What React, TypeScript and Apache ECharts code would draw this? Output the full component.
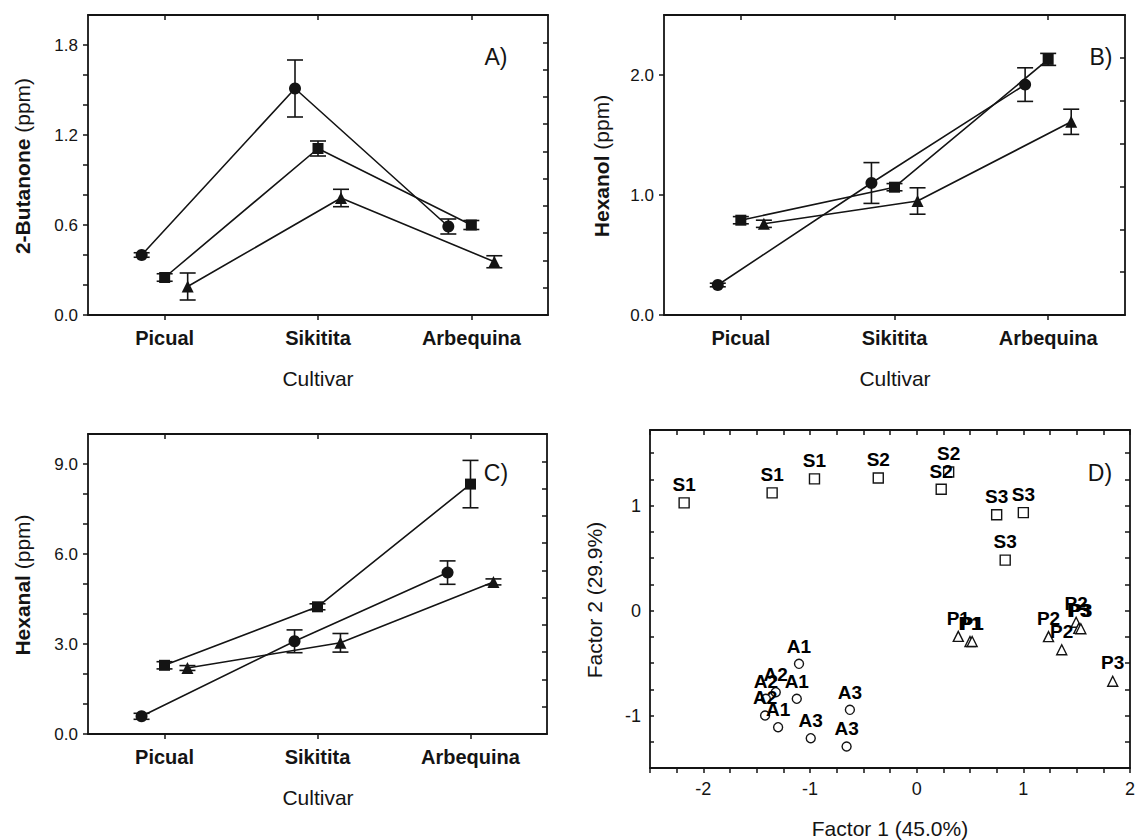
import React, { useEffect, useRef } from "react";
import * as echarts from "echarts";

// ---------- data ----------
const cultivars = ["Picual", "Sikitita", "Arbequina"];

// Panel A: 2-Butanone (ppm)
const butanoneCircle = [0.4, 1.51, 0.59];
const butanoneCircleErr = [0.015, 0.19, 0.05];
const butanoneSquare = [0.25, 1.11, 0.6];
const butanoneSquareErr = [0.025, 0.05, 0.03];
const butanoneTriangle = [0.19, 0.78, 0.355];
const butanoneTriangleErr = [0.09, 0.058, 0.04];

// Panel B: Hexanol (ppm)
const hexanolCircle = [0.25, 1.1, 1.92];
const hexanolCircleErr = [0.015, 0.17, 0.14];
const hexanolSquare = [0.79, 1.065, 2.13];
const hexanolSquareErr = [0.03, 0.03, 0.05];
const hexanolTriangle = [0.76, 0.95, 1.61];
const hexanolTriangleErr = [0.03, 0.11, 0.105];

// Panel C: Hexanal (ppm)
const hexanalCircle = [0.59, 3.09, 5.38];
const hexanalCircleErr = [0.1, 0.38, 0.39];
const hexanalSquare = [2.29, 4.24, 8.33];
const hexanalSquareErr = [0.12, 0.1, 0.79];
const hexanalTriangle = [2.2, 3.04, 5.07];
const hexanalTriangleErr = [0.08, 0.31, 0.1];

// Panel D: factor scores
const sLabels = ["S1", "S1", "S1", "S2", "S2", "S2", "S3", "S3", "S3"];
const sF1 = [-2.18, -1.355, -0.958, -0.36, 0.23, 0.3, 0.75, 1.0, 0.83];
const sF2 = [1.026, 1.121, 1.254, 1.263, 1.155, 1.32, 0.912, 0.933, 0.48];
const pLabels = ["P1", "P1", "P1", "P2", "P2", "P2", "P3", "P3", "P3"];
const pF1 = [0.39, 0.5, 0.52, 1.236, 1.36, 1.495, 1.52, 1.539, 1.838];
const pF2 = [-0.246, -0.295, -0.295, -0.248, -0.374, -0.111, -0.17, -0.174, -0.673];
const aLabels = ["A1", "A1", "A1", "A2", "A2", "A2", "A3", "A3", "A3"];
const aF1 = [-1.103, -1.124, -1.299, -1.321, -1.414, -1.421, -0.626, -0.993, -0.657];
const aF2 = [-0.508, -0.841, -1.111, -0.778, -0.841, -1.0, -0.946, -1.216, -1.295];

// tick lists
const catTicks = [0, 1, 2];
const aYLabels = [0, 0.6, 1.2, 1.8];
const aYTicks = [0, 0.2, 0.4, 0.6, 0.8, 1.0, 1.2, 1.4, 1.6, 1.8];
const bYLabels = [0, 1, 2];
const bYTicks = [0, 1, 2];
const cYLabels = [0, 3, 6, 9];
const cYTicks = [0, 1, 2, 3, 4, 5, 6, 7, 8, 9];
const dXLabels = [-2, -1, 0, 1, 2];
const dYLabels = [-1, 0, 1];

const FONT = "'Liberation Sans', Arial, Helvetica, sans-serif";
const INK = "#141414";

function steps(from: number, to: number, n: number) {
  const out: number[] = [];
  for (let k = 1; k < n; k++) out.push(from + ((to - from) * k) / n);
  return out;
}
function range(from: number, to: number, step: number) {
  const out: number[] = [];
  for (let v = from; v <= to + 1e-9; v += step) out.push(Math.round(v * 1000) / 1000);
  return out;
}

const offsets = [-0.15, 0, 0.15];

export default function App() {
  const ref = useRef<HTMLDivElement>(null);

  useEffect(() => {
    document.body.style.margin = "0";
    if (!ref.current) return;
    const chart = echarts.init(ref.current, undefined, { renderer: "svg" });

    const frameLine = { show: true, onZero: false, lineStyle: { color: INK, width: 1.8 } };

    const grids = [
      { left: 88, top: 15, width: 460, height: 300 },
      { left: 664, top: 15, width: 461, height: 300 },
      { left: 88, top: 434, width: 459, height: 300 },
      { left: 650, top: 430, width: 480, height: 338 },
    ];

    const xAxes: any[] = [];
    const yAxes: any[] = [];

    const linePanels = [
      {
        ymax: 2.0,
        yLabels: aYLabels,
        yTicks: aYTicks,
        rTicks: steps(0, 2.0, 11),
        groups: [
          { m: butanoneCircle, e: butanoneCircleErr, sym: "circle", size: 12 },
          { m: butanoneSquare, e: butanoneSquareErr, sym: "rect", size: 11 },
          { m: butanoneTriangle, e: butanoneTriangleErr, sym: "triangle", size: 12 },
        ],
      },
      {
        ymax: 2.5,
        yLabels: bYLabels,
        yTicks: bYTicks,
        rTicks: steps(0, 2.5, 7),
        groups: [
          { m: hexanolCircle, e: hexanolCircleErr, sym: "circle", size: 12 },
          { m: hexanolSquare, e: hexanolSquareErr, sym: "rect", size: 11 },
          { m: hexanolTriangle, e: hexanolTriangleErr, sym: "triangle", size: 12 },
        ],
      },
      {
        ymax: 10,
        yLabels: cYLabels,
        yTicks: cYTicks,
        rTicks: steps(0, 10, 11),
        groups: [
          { m: hexanalCircle, e: hexanalCircleErr, sym: "circle", size: 12 },
          { m: hexanalSquare, e: hexanalSquareErr, sym: "rect", size: 11 },
          { m: hexanalTriangle, e: hexanalTriangleErr, sym: "triangle", size: 12 },
        ],
      },
    ];

    const series: any[] = [];

    linePanels.forEach((p, i) => {
      xAxes.push({
        gridIndex: i,
        type: "value",
        position: "bottom",
        min: -0.5,
        max: 2.5,
        axisLine: frameLine,
        splitLine: { show: false },
        axisTick: { show: true, customValues: catTicks, length: 5, inside: false, lineStyle: { color: INK, width: 1.5 } },
        axisLabel: {
          customValues: catTicks,
          formatter: (v: number) => cultivars[Math.round(v)] ?? "",
          fontWeight: "bold",
          fontSize: 20,
          color: INK,
          margin: 13,
          fontFamily: FONT,
        },
      });
      xAxes.push({
        gridIndex: i,
        type: "value",
        position: "top",
        min: -0.5,
        max: 2.5,
        axisLine: frameLine,
        splitLine: { show: false },
        axisTick: { show: true, customValues: catTicks, length: 5, inside: true, lineStyle: { color: INK, width: 1.5 } },
        axisLabel: { show: false },
      });
      yAxes.push({
        gridIndex: i,
        type: "value",
        position: "left",
        min: 0,
        max: p.ymax,
        axisLine: frameLine,
        splitLine: { show: false },
        axisTick: { show: true, customValues: p.yTicks, length: 5, inside: false, lineStyle: { color: INK, width: 1.5 } },
        axisLabel: {
          customValues: p.yLabels,
          formatter: (v: number) => v.toFixed(1),
          fontSize: 17,
          color: INK,
          margin: 10,
          fontFamily: FONT,
        },
      });
      yAxes.push({
        gridIndex: i,
        type: "value",
        position: "right",
        min: 0,
        max: p.ymax,
        axisLine: frameLine,
        splitLine: { show: false },
        axisTick: { show: true, customValues: p.rTicks, length: 5, inside: true, lineStyle: { color: INK, width: 1.5 } },
        axisLabel: { show: false },
      });

      p.groups.forEach((g, gi) => {
        const xs = catTicks.map((c) => c + offsets[gi]);
        series.push({
          type: "custom",
          xAxisIndex: 2 * i,
          yAxisIndex: 2 * i,
          z: 2,
          silent: true,
          encode: { x: 0, y: [1, 2] },
          data: xs.map((x, j) => [x, g.m[j] - g.e[j], g.m[j] + g.e[j]]),
          renderItem: (params: any, api: any) => {
            const x = api.value(0);
            const lo = api.coord([x, api.value(1)]);
            const hi = api.coord([x, api.value(2)]);
            const w = 8;
            const st = { stroke: INK, lineWidth: 1.6, fill: "none" };
            return {
              type: "group",
              children: [
                { type: "line", shape: { x1: lo[0], y1: lo[1], x2: hi[0], y2: hi[1] }, style: st },
                { type: "line", shape: { x1: lo[0] - w, y1: lo[1], x2: lo[0] + w, y2: lo[1] }, style: st },
                { type: "line", shape: { x1: hi[0] - w, y1: hi[1], x2: hi[0] + w, y2: hi[1] }, style: st },
              ],
            };
          },
        });
        series.push({
          type: "line",
          xAxisIndex: 2 * i,
          yAxisIndex: 2 * i,
          z: 3,
          data: xs.map((x, j) => [x, g.m[j]]),
          symbol: g.sym,
          symbolSize: g.size,
          showAllSymbol: true,
          itemStyle: { color: INK, opacity: 1 },
          lineStyle: { color: INK, width: 1.6 },
        });
      });
    });

    // Panel D axes
    const dXT = range(-2.5, 2, 0.25);
    const dYT = range(-1.5, 1.5, 0.25);
    const tickStyle = { color: INK, width: 1.5 };
    xAxes.push({
      gridIndex: 3,
      type: "value",
      position: "bottom",
      min: -2.5,
      max: 2,
      axisLine: frameLine,
      splitLine: { show: false },
      axisTick: { show: true, customValues: dXT, length: 5, inside: false, lineStyle: tickStyle },
      axisLabel: { customValues: dXLabels, formatter: (v: number) => String(v), fontSize: 18, color: INK, margin: 12, fontFamily: FONT },
    });
    xAxes.push({
      gridIndex: 3,
      type: "value",
      position: "top",
      min: -2.5,
      max: 2,
      axisLine: frameLine,
      splitLine: { show: false },
      axisTick: { show: true, customValues: dXT, length: 5, inside: true, lineStyle: tickStyle },
      axisLabel: { show: false },
    });
    yAxes.push({
      gridIndex: 3,
      type: "value",
      position: "left",
      min: -1.5,
      max: 1.72,
      axisLine: frameLine,
      splitLine: { show: false },
      axisTick: { show: true, customValues: dYT, length: 4, inside: true, lineStyle: tickStyle },
      axisLabel: { customValues: dYLabels, formatter: (v: number) => String(v), fontSize: 18, color: INK, margin: 9, fontFamily: FONT },
    });
    yAxes.push({
      gridIndex: 3,
      type: "value",
      position: "right",
      min: -1.5,
      max: 1.72,
      axisLine: frameLine,
      splitLine: { show: false },
      axisTick: { show: true, customValues: dYT, length: 5, inside: true, lineStyle: tickStyle },
      axisLabel: { show: false },
    });

    const scatterGroups = [
      { f1: sF1, f2: sF2, lab: sLabels, sym: "rect", size: 10 },
      { f1: pF1, f2: pF2, lab: pLabels, sym: "triangle", size: 10 },
      { f1: aF1, f2: aF2, lab: aLabels, sym: "circle", size: 9 },
    ];
    scatterGroups.forEach((g) => {
      series.push({
        type: "scatter",
        xAxisIndex: 6,
        yAxisIndex: 6,
        z: 3,
        symbol: g.sym,
        symbolSize: g.size,
        itemStyle: { color: "#ffffff", borderColor: INK, borderWidth: 1.4, opacity: 1 },
        label: {
          show: true,
          position: "top",
          distance: 3,
          formatter: "{b}",
          fontWeight: "bold",
          fontSize: 19,
          color: "#000000",
          opacity: 1,
          fontFamily: FONT,
        },
        emphasis: { disabled: true },
        data: g.f1.map((x, j) => ({ name: g.lab[j], value: [x, g.f2[j]] })),
      });
    });

    const text = (x: number, y: number, t: string, rot = 0, size = 21, rich?: any) => ({
      type: "text",
      x,
      y,
      rotation: rot,
      silent: true,
      style: {
        text: t,
        fill: INK,
        fontSize: size,
        fontFamily: FONT,
        align: "center",
        verticalAlign: "middle",
        rich,
      },
    });
    const yRich = {
      b: { fontWeight: "bold", fontSize: 21, fontFamily: FONT, fill: INK },
      n: { fontSize: 21, fontFamily: FONT, fill: INK },
    };

    const graphics = [
      text(318, 378, "Cultivar"),
      text(895, 378, "Cultivar"),
      text(318, 797, "Cultivar"),
      text(890, 828, "Factor 1 (45.0%)"),
      text(22, 166, "{b|2-Butanone} {n|(ppm)}", Math.PI / 2, 21, yRich),
      text(601, 166, "{b|Hexanol} {n|(ppm)}", Math.PI / 2, 21, yRich),
      text(22, 585, "{b|Hexanal} {n|(ppm)}", Math.PI / 2, 21, yRich),
      text(594, 600, "Factor 2 (29.9%)", Math.PI / 2),
      text(496, 57, "A)", 0, 23),
      text(1101, 57, "B)", 0, 23),
      text(496, 473, "C)", 0, 23),
      text(1100, 473, "D)", 0, 23),
    ];

    chart.setOption({
      animation: false,
      backgroundColor: "#ffffff",
      textStyle: { fontFamily: FONT },
      grid: grids,
      xAxis: xAxes,
      yAxis: yAxes,
      series,
      graphic: graphics,
    });

    return () => chart.dispose();
  }, []);

  return <div ref={ref} style={{ width: 1140, height: 840 }} />;
}
